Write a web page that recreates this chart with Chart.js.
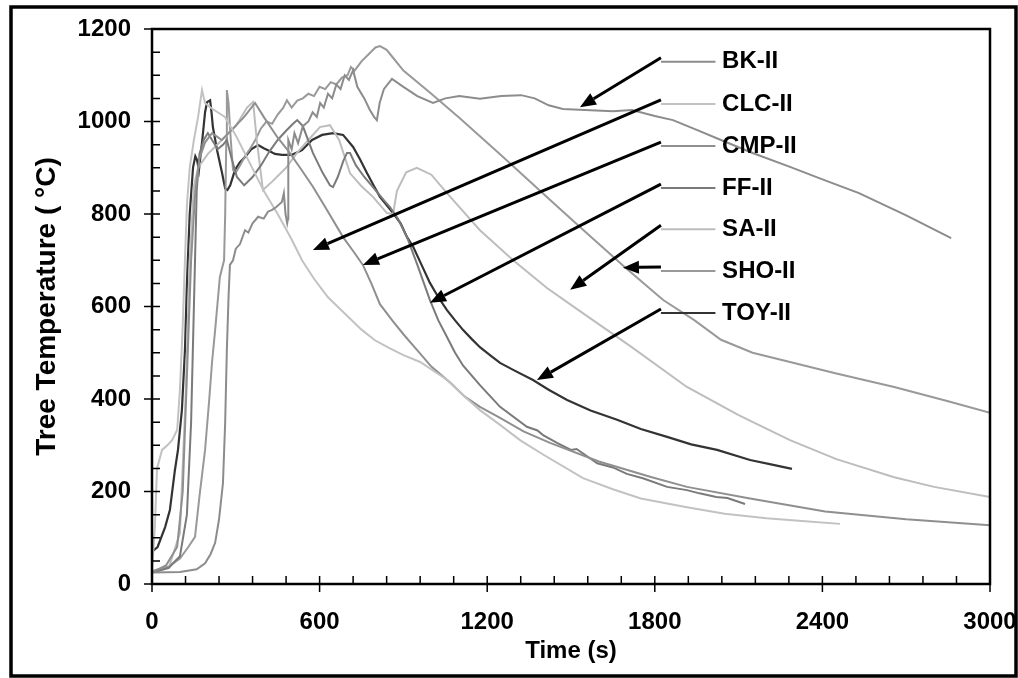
<!DOCTYPE html>
<html>
<head>
<meta charset="utf-8">
<title>Tree Temperature</title>
<script src="https://cdn.jsdelivr.net/npm/chart.js@4.4.0/dist/chart.umd.min.js"></script>
<style>
  body { margin: 0; background: #fff; }
  #wrap { width: 1018px; height: 678px; position: relative; }
</style>
</head>
<body>
<div id="wrap"><canvas id="tempChart"></canvas></div>
<script>
// series: [time (s), temperature (°C)]
const bkII = [[0,25],[100,26],[160,32],[190,45],[210,65],[226,89],[240,140],[254,218],[262,350],[268,506],[274,620],[279,690],[290,700],[300,725],[315,735],[333,765],[345,760],[360,780],[380,794],[400,790],[415,805],[430,809],[445,815],[465,826],[472,845],[478,800],[484,780],[487,790],[488,960],[500,940],[510,975],[523,953],[540,990],[560,1000],[575,1020],[590,1010],[602,1040],[615,1030],[630,1060],[645,1050],[660,1080],[675,1070],[690,1100],[705,1090],[720,1111],[735,1075],[760,1050],[780,1025],[795,1010],[805,1003],[815,1040],[830,1070],[859,1092],[900,1075],[950,1055],[1006,1040],[1050,1050],[1100,1055],[1174,1049],[1250,1055],[1321,1057],[1370,1050],[1420,1035],[1471,1027],[1550,1025],[1650,1022],[1718,1025],[1800,1012],[1865,1003],[1950,982],[2037,960],[2150,932],[2284,902],[2400,875],[2531,845],[2700,797],[2861,748]];
const clcII = [[0,30],[10,120],[18,250],[36,290],[55,300],[72,311],[90,333],[100,420],[110,560],[118,700],[125,820],[135,900],[150,960],[165,1010],[179,1068],[190,1040],[210,1030],[235,1020],[261,1010],[300,970],[350,910],[400,850],[450,800],[500,745],[537,700],[580,660],[630,620],[690,585],[750,550],[798,527],[850,510],[900,495],[960,480],[1010,460],[1060,440],[1120,405],[1174,376],[1246,344],[1320,310],[1400,280],[1543,229],[1650,205],[1750,185],[1915,166],[2050,152],[2200,142],[2350,135],[2463,130]];
const cmpII = [[0,25],[50,40],[90,80],[110,200],[125,450],[140,700],[155,850],[170,920],[190,955],[215,975],[250,960],[290,985],[330,1010],[369,1040],[400,1010],[450,965],[490,935],[530,900],[575,860],[620,815],[684,750],[720,720],[755,690],[785,650],[816,605],[860,570],[900,540],[950,505],[1000,470],[1068,435],[1120,405],[1174,383],[1246,359],[1330,330],[1425,305],[1600,265],[1783,232],[1915,210],[2141,185],[2410,157],[2700,140],[3000,127]];
const ffII = [[0,25],[60,35],[100,60],[125,150],[140,350],[152,650],[160,850],[170,930],[185,960],[200,975],[215,960],[235,940],[255,950],[268,960],[285,920],[304,880],[330,862],[360,880],[390,905],[420,935],[450,960],[480,980],[505,995],[520,1003],[540,990],[576,932],[610,890],[637,862],[648,858],[665,880],[685,915],[698,932],[709,932],[730,905],[760,880],[791,858],[830,830],[852,815],[880,790],[913,750],[950,690],[995,614],[1025,570],[1056,534],[1085,500],[1114,472],[1174,430],[1246,383],[1342,340],[1380,332],[1400,322],[1450,305],[1500,290],[1520,292],[1594,261],[1650,252],[1700,238],[1760,228],[1844,210],[1915,203],[1960,196],[2020,188],[2060,186],[2123,173]];
const saII = [[0,25],[60,35],[100,110],[120,400],[135,700],[150,860],[165,900],[200,930],[250,960],[300,990],[340,1030],[362,1042],[375,960],[397,852],[430,870],[480,900],[519,932],[560,960],[601,988],[637,992],[670,960],[709,888],[750,860],[791,837],[841,802],[863,800],[877,850],[910,890],[948,900],[1000,885],[1056,845],[1174,765],[1293,700],[1414,640],[1532,590],[1711,515],[1915,426],[2100,365],[2284,311],[2450,270],[2657,231],[2800,210],[3000,188]];
const shoII = [[0,28],[60,38],[100,55],[130,80],[154,102],[170,190],[190,290],[205,400],[215,480],[226,549],[243,664],[258,700],[262,800],[266,960],[268,1068],[274,1040],[282,960],[290,895],[300,890],[315,905],[333,925],[350,940],[370,960],[390,985],[410,1000],[430,995],[450,1015],[470,1030],[483,1046],[500,1030],[520,1045],[540,1050],[560,1060],[580,1055],[600,1075],[620,1070],[640,1085],[660,1080],[680,1095],[700,1100],[712,1118],[725,1110],[750,1130],[780,1148],[800,1160],[816,1163],[840,1155],[860,1140],[900,1110],[1000,1060],[1100,1008],[1174,968],[1246,929],[1350,872],[1450,817],[1550,762],[1693,685],[1830,614],[1940,571],[2037,528],[2150,500],[2284,480],[2450,455],[2657,426],[2850,395],[3000,370]];
const toyII = [[0,70],[20,80],[47,123],[64,160],[82,246],[93,290],[107,376],[118,506],[125,651],[135,800],[147,901],[155,925],[161,917],[168,895],[180,960],[190,1020],[197,1042],[208,1046],[213,1020],[218,988],[233,938],[251,888],[262,855],[270,852],[280,862],[297,895],[315,912],[333,923],[355,940],[380,949],[400,942],[415,938],[440,930],[465,928],[501,928],[537,938],[573,960],[609,971],[648,975],[684,971],[720,945],[745,918],[770,888],[795,860],[816,837],[863,802],[890,780],[913,750],[935,729],[965,690],[995,651],[1025,620],[1056,592],[1085,570],[1114,549],[1144,530],[1174,512],[1210,495],[1246,478],[1293,463],[1364,441],[1420,420],[1486,398],[1570,375],[1665,355],[1750,335],[1844,318],[1930,302],[2023,290],[2141,268],[2220,258],[2291,249]];

const seriesNames = ['BK-II', 'CLC-II', 'CMP-II', 'FF-II', 'SA-II', 'SHO-II', 'TOY-II'];
const seriesData = [bkII, clcII, cmpII, ffII, saII, shoII, toyII];
const seriesColors = ['#8c8c8c', '#c2c2c2', '#8f8f8f', '#7a7a7a', '#bdbdbd', '#999999', '#333333'];

const xTicks = [0, 600, 1200, 1800, 2400, 3000];
const yTicks = [0, 200, 400, 600, 800, 1000, 1200];

// callouts: label row (°C) and where each arrow lands (s, °C)
const labelRowTemp = [1129, 1038, 947, 856, 767, 677, 586];
const arrowTipTime = [1532, 576, 755, 995, 1497, 1686, 1378];
const arrowTipTemp = [1031, 722, 690, 608, 636, 684, 441];

Chart.defaults.font.family = '"Liberation Sans", Arial, sans-serif';
Chart.defaults.color = '#000';

// box, tick marks and outer frame
const frame = {
  id: 'frame',
  afterDraw(chart) {
    const ctx = chart.ctx;
    const a = chart.chartArea;
    const xs = chart.scales.x, ys = chart.scales.y;
    ctx.save();
    ctx.strokeStyle = '#000';
    ctx.lineWidth = 2.5;
    ctx.strokeRect(a.left, a.top, a.right - a.left, a.bottom - a.top);
    ctx.lineWidth = 1.5;
    ctx.beginPath();
    for (let t = 0; t <= 3000; t += 120) {
      const px = xs.getPixelForValue(t);
      const major = t % 600 === 0;
      ctx.moveTo(px, a.bottom - 8);
      ctx.lineTo(px, major ? a.bottom + 8 : a.bottom);
    }
    for (let v = 0; v <= 1200; v += 50) {
      const py = ys.getPixelForValue(v);
      const major = v % 200 === 0;
      ctx.moveTo(major ? a.left - 8 : a.left, py);
      ctx.lineTo(a.left + 8, py);
    }
    ctx.stroke();
    ctx.lineWidth = 3.5;
    ctx.strokeRect(11, 7, 1005, 669);
    ctx.restore();
  }
};

// series labels with short line and arrow
const callouts = {
  id: 'callouts',
  afterDatasetsDraw(chart) {
    const ctx = chart.ctx;
    const xs = chart.scales.x, ys = chart.scales.y;
    const segStart = xs.getPixelForValue(1822);
    const segEnd = xs.getPixelForValue(2017);
    const textX = xs.getPixelForValue(2041);
    ctx.save();
    seriesNames.forEach((name, i) => {
      const y = ys.getPixelForValue(labelRowTemp[i]);
      ctx.strokeStyle = seriesColors[i];
      ctx.lineWidth = 2;
      ctx.beginPath();
      ctx.moveTo(segStart, y);
      ctx.lineTo(segEnd, y);
      ctx.stroke();

      const tx = xs.getPixelForValue(arrowTipTime[i]);
      const ty = ys.getPixelForValue(arrowTipTemp[i]);
      const sx = segStart, sy = y - 4;
      const ang = Math.atan2(ty - sy, tx - sx);
      const head = 16, half = 6.5;
      const bx = tx - head * Math.cos(ang), by = ty - head * Math.sin(ang);
      ctx.strokeStyle = '#000';
      ctx.lineWidth = 3;
      ctx.beginPath();
      ctx.moveTo(sx, sy);
      ctx.lineTo(bx, by);
      ctx.stroke();
      ctx.fillStyle = '#000';
      ctx.beginPath();
      ctx.moveTo(tx, ty);
      ctx.lineTo(bx + half * Math.sin(ang), by - half * Math.cos(ang));
      ctx.lineTo(bx - half * Math.sin(ang), by + half * Math.cos(ang));
      ctx.closePath();
      ctx.fill();

      ctx.fillStyle = '#000';
      ctx.font = 'bold 24px "Liberation Sans", Arial, sans-serif';
      ctx.textAlign = 'left';
      ctx.textBaseline = 'middle';
      ctx.fillText(name, textX, y);
    });
    ctx.restore();
  }
};

new Chart(document.getElementById('tempChart'), {
  type: 'line',
  data: {
    datasets: seriesNames.map((name, i) => ({
      label: name,
      data: seriesData[i].map(p => ({ x: p[0], y: p[1] })),
      borderColor: seriesColors[i],
      borderWidth: i === 6 ? 2.2 : 2,
      pointRadius: 0,
      tension: 0,
      fill: false
    }))
  },
  options: {
    responsive: true,
    maintainAspectRatio: false,
    animation: false,
    layout: { padding: { left: 0, right: 28, top: 29, bottom: 0 } },
    plugins: { legend: { display: false }, tooltip: { enabled: false } },
    scales: {
      x: {
        type: 'linear', min: 0, max: 3000,
        grid: { display: false, drawTicks: false },
        border: { display: false },
        afterBuildTicks: s => { s.ticks = xTicks.map(v => ({ value: v })); },
        ticks: { font: { size: 24, weight: 'bold' }, padding: 24, maxRotation: 0, color: '#000', callback: v => String(v) },
        title: { display: true, text: 'Time (s)', font: { size: 24, weight: 'bold' }, color: '#000', padding: { top: 0, bottom: 12 } },
        afterFit: s => { s.height = 94; s.paddingLeft = 0; s.paddingRight = 0; }
      },
      y: {
        min: 0, max: 1200,
        grid: { display: false, drawTicks: false },
        border: { display: false },
        afterBuildTicks: s => { s.ticks = yTicks.map(v => ({ value: v })); },
        ticks: { font: { size: 24, weight: 'bold' }, padding: 21, color: '#000', callback: v => String(v) },
        title: { display: true, text: 'Tree Temperature ( °C)', font: { size: 28, weight: 'bold' }, color: '#000', padding: { top: 30, bottom: 0 } },
        afterFit: s => { s.width = 152; s.paddingTop = 0; s.paddingBottom = 0; }
      }
    }
  },
  plugins: [frame, callouts]
});
</script>
</body>
</html>
